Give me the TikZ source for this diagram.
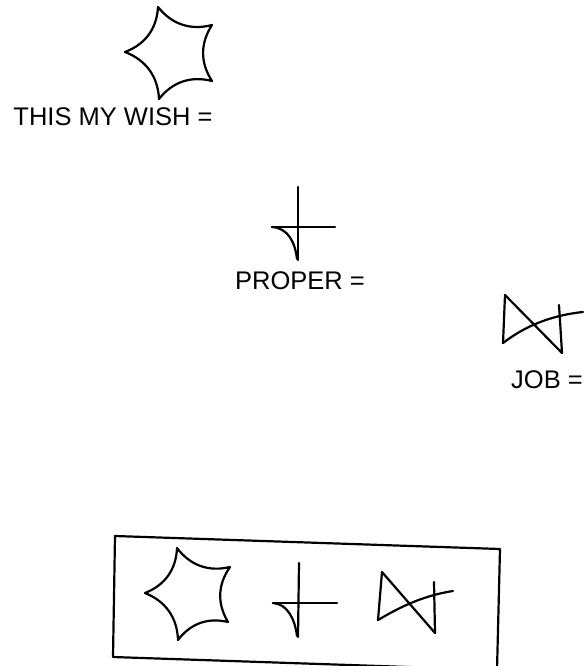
\documentclass[tikz,border=0pt]{standalone}
\usepackage{fontspec}
\setmainfont{Liberation Sans}
\begin{document}
\begin{tikzpicture}[x=1pt,y=-1pt,
  ink/.style={line width=2.2pt,line join=round,line cap=round},
  lbl/.style={font=\fontsize{25.5}{26}\selectfont,inner sep=0pt}]
\useasboundingbox (0,0) rectangle (584,666);
\clip (0,0) rectangle (584,666);
% top star
\coordinate (s1t) at (158,7);
\coordinate (s1a) at (212,25);
\coordinate (s1b) at (212,81);
\coordinate (s1c) at (159,99);
\coordinate (s1l) at (125,52);
\draw[ink] (s1t) to[bend right=33] (s1a) to[bend right=33] (s1b) to[bend right=33] (s1c) to[bend right=33] (s1l) to[bend right=33] cycle;
\node[lbl] (wish) at (113,117) {THIS MY WISH =};
% top cross
\coordinate (c1u) at (298,187);
\coordinate (c1d) at (298,260);
\coordinate (c1l) at (272,227);
\coordinate (c1r) at (335,227);
\coordinate (c1e) at (297,259);
\draw[ink] (c1u) -- (c1d);
\draw[ink] (c1l) -- (c1r);
\draw[ink] (c1l) .. controls (288,228) and (295,242) .. (c1e);
\node[lbl] (proper) at (300,281) {PROPER =};
% top bowtie
\coordinate (b1a) at (505,295);
\coordinate (b1l) at (503,343);
\coordinate (b1r) at (562,353);
\coordinate (b1t) at (559,305);
\coordinate (b1e) at (583,312);
\draw[ink] (b1l) -- (b1a) -- (b1r) -- (b1t);
\draw[ink] (b1l) .. controls (520,330) and (545,316) .. (b1e);
\node[lbl] (job) at (547,380) {JOB =};
% box
\coordinate (bx1) at (115,536);
\coordinate (bx2) at (500,549);
\coordinate (bx3) at (497,670);
\coordinate (bx4) at (113,657);
\draw[ink] (bx1) -- (bx2) -- (bx3) -- (bx4) -- cycle;
% bottom star
\coordinate (s2t) at (177,548);
\coordinate (s2a) at (230,567);
\coordinate (s2b) at (228,622);
\coordinate (s2c) at (178,640);
\coordinate (s2l) at (145,593);
\draw[ink] (s2t) to[bend right=33] (s2a) to[bend right=33] (s2b) to[bend right=33] (s2c) to[bend right=33] (s2l) to[bend right=33] cycle;
% bottom cross
\coordinate (c2u) at (299,563);
\coordinate (c2d) at (298,637);
\coordinate (c2l) at (273,603);
\coordinate (c2r) at (337,603);
\coordinate (c2e) at (297,636);
\draw[ink] (c2u) -- (c2d);
\draw[ink] (c2l) -- (c2r);
\draw[ink] (c2l) .. controls (288,604) and (295,620) .. (c2e);
% bottom bowtie
\coordinate (b2a) at (382,572);
\coordinate (b2l) at (378,620);
\coordinate (b2r) at (435,633);
\coordinate (b2t) at (434,582);
\coordinate (b2e) at (453,591);
\draw[ink] (b2l) -- (b2a) -- (b2r) -- (b2t);
\draw[ink] (b2l) .. controls (395,610) and (420,596) .. (b2e);
\end{tikzpicture}
\end{document}
